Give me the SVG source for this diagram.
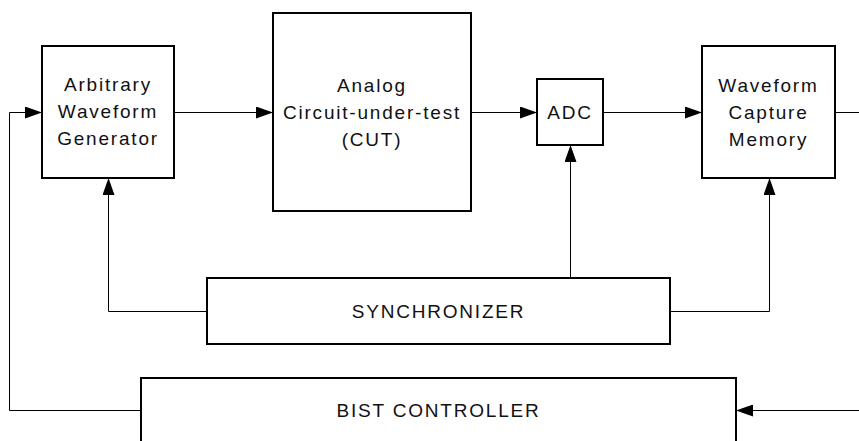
<svg xmlns="http://www.w3.org/2000/svg" width="859" height="441" viewBox="0 0 859 441">
<defs>
<marker id="ah" markerUnits="userSpaceOnUse" markerWidth="18" markerHeight="12" refX="17" refY="6" orient="auto">
<path d="M0,0 L17,6 L0,12 z" fill="#000"/>
</marker>
<style>
.box{fill:#fff;stroke:#000;stroke-width:2}
.lbl{font-family:"Liberation Sans",Arial,sans-serif;font-size:19px;letter-spacing:1.8px;fill:#111;text-anchor:middle}
.wire{fill:none;stroke:#000;stroke-width:1}
.arr{marker-end:url(#ah)}
</style>
</defs>
<rect width="859" height="441" fill="#fff"/>
<g id="connectors">
<path class="wire arr" d="M141,410.5 H9.5 V112.5 H42"/>
<path class="wire arr" d="M174,112.5 H273"/>
<path class="wire arr" d="M471,112.5 H537"/>
<path class="wire arr" d="M603,112.5 H702"/>
<path class="wire" d="M835,112.5 H859"/>
<path class="wire arr" d="M859,410.5 H736"/>
<path class="wire arr" d="M207,311.5 H108.5 V178"/>
<path class="wire arr" d="M570.5,278 V145"/>
<path class="wire arr" d="M669,311.5 H769.5 V178"/>
</g>
<g id="awg">
<rect class="box" x="42" y="46" width="132" height="132"/>
<text class="lbl" x="108" y="91">Arbitrary</text>
<text class="lbl" x="108" y="118">Waveform</text>
<text class="lbl" x="108" y="145">Generator</text>
</g>
<g id="cut">
<rect class="box" x="273" y="13" width="198" height="198"/>
<text class="lbl" x="372" y="92">Analog</text>
<text class="lbl" x="372" y="119">Circuit-under-test</text>
<text class="lbl" x="372" y="146">(CUT)</text>
</g>
<g id="adc">
<rect class="box" x="537" y="79" width="66" height="66"/>
<text class="lbl" x="570" y="119">ADC</text>
</g>
<g id="wcm">
<rect class="box" x="702" y="46" width="133" height="132"/>
<text class="lbl" x="768.5" y="92">Waveform</text>
<text class="lbl" x="768.5" y="119">Capture</text>
<text class="lbl" x="768.5" y="146">Memory</text>
</g>
<g id="sync">
<rect class="box" x="207" y="278" width="463" height="66"/>
<text class="lbl" x="438.5" y="318">SYNCHRONIZER</text>
</g>
<g id="bist">
<rect class="box" x="141" y="378" width="595" height="100"/>
<text class="lbl" x="438.5" y="417">BIST CONTROLLER</text>
</g>
</svg>
